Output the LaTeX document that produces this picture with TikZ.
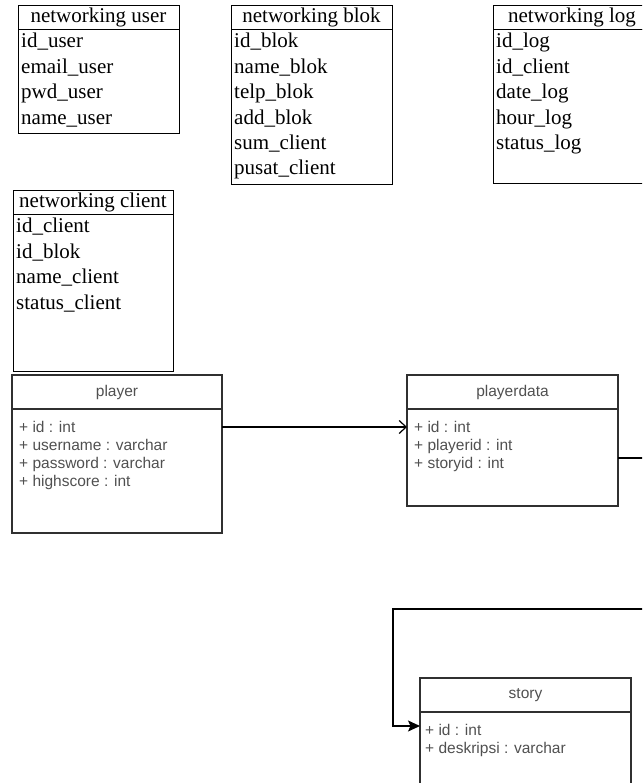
\documentclass[tikz,border=0pt]{standalone}
\usepackage{fontspec}
\setmainfont{Liberation Serif}
\newfontfamily\umlsans{Liberation Sans}
\usepackage{tikz}
\usetikzlibrary{arrows,arrows.meta,positioning,calc}
\definecolor{umltext}{HTML}{505050}
\definecolor{umlline}{HTML}{303030}
\tikzstyle{tablehead}=[draw=black,line width=0.9pt,outer sep=0pt,inner sep=0pt,minimum height=24pt,anchor=north west,font=\fontsize{21}{25}\selectfont]
\tikzstyle{tablebody}=[draw=black,line width=0.9pt,outer sep=0pt,inner sep=0pt]
\tikzstyle{field}=[inner sep=0pt,anchor=base west,font=\fontsize{21}{25}\selectfont]
\tikzstyle{classhead}=[draw=umlline,line width=1.4pt,outer sep=0pt,inner sep=0pt,minimum height=34pt,anchor=north west,text=umltext,font=\umlsans\fontsize{15.5}{18}\selectfont]
\tikzstyle{classbody}=[draw=umlline,line width=1.4pt,outer sep=0pt,inner sep=0pt]
\tikzstyle{attr}=[inner sep=0pt,anchor=base west,text=umltext,font=\umlsans\fontsize{15.5}{18}\selectfont]
\tikzstyle{assoc}=[draw,line width=1.2pt]

\begin{document}
\begin{tikzpicture}[x=1pt,y=-1pt]

    \useasboundingbox (0,0) rectangle (642,783);
    \clip (0,0) rectangle (642,783);

    % networking tables
    \foreach \name/\x/\y/\w/\h/\title in {user/18/5/161/104/networking user, blok/231/5/161/155/networking blok, log/493/5/158/154/networking log, client/13/190/160/157/networking client} {
        \node[tablehead,minimum width=\w] (\name-head) at (\x,\y) {\title};
        \node[tablebody,minimum width=\w,minimum height=\h,below=0pt of \name-head] (\name) {};
    }

    \foreach \f [count=\i] in {id\_user,email\_user,pwd\_user,name\_user}
        \node[field] (user-\i) at ($(user.north west)+(3,{19+25.4*(\i-1)})$) {\f};
    \foreach \f [count=\i] in {id\_blok,name\_blok,telp\_blok,add\_blok,sum\_client,pusat\_client}
        \node[field] (blok-\i) at ($(blok.north west)+(3,{19+25.4*(\i-1)})$) {\f};
    \foreach \f [count=\i] in {id\_log,id\_client,date\_log,hour\_log,status\_log}
        \node[field] (log-\i) at ($(log.north west)+(3,{19+25.4*(\i-1)})$) {\f};
    \foreach \f [count=\i] in {id\_client,id\_blok,name\_client,status\_client}
        \node[field] (client-\i) at ($(client.north west)+(3,{19+25.4*(\i-1)})$) {\f};

    % game classes
    \foreach \name/\x/\y/\w/\h/\title in {player/12/375/210/124/player, playerdata/407/375/211/97/playerdata, story/420/678/211/88/story} {
        \node[classhead,minimum width=\w] (\name-head) at (\x,\y) {\title};
        \node[classbody,minimum width=\w,minimum height=\h,below=0pt of \name-head] (\name) {};
    }

    \foreach \a [count=\i] in {+ id : int,+ username : varchar,+ password : varchar,+ highscore : int}
        \node[attr] (pl-\i) at ($(player.north west)+(7,{23+18.3*(\i-1)})$) {\a};
    \foreach \a [count=\i] in {+ id : int,+ playerid : int,+ storyid : int}
        \node[attr] (pd-\i) at ($(playerdata.north west)+(7,{23+18.3*(\i-1)})$) {\a};
    \foreach \a [count=\i] in {+ id : int,+ deskripsi : varchar}
        \node[attr] (st-\i) at ($(story.north west)+(5,{23+18.3*(\i-1)})$) {\a};

    % connectors
    \coordinate (bendR) at (660,609);
    \coordinate (bendL) at (393,609);

    \path[assoc,-{Straight Barb[length=7pt,width=13pt]}] ([yshift=-18pt]player-head.south east) -- ([yshift=-18pt]playerdata-head.south west);
    \path[assoc,-{Stealth[length=12pt,width=11pt,inset=2.5pt]}] ([yshift=-49pt]playerdata-head.south east) -| (bendR) -- (bendL) |- ([yshift=-14pt]story-head.south west);

\end{tikzpicture}
\end{document}
